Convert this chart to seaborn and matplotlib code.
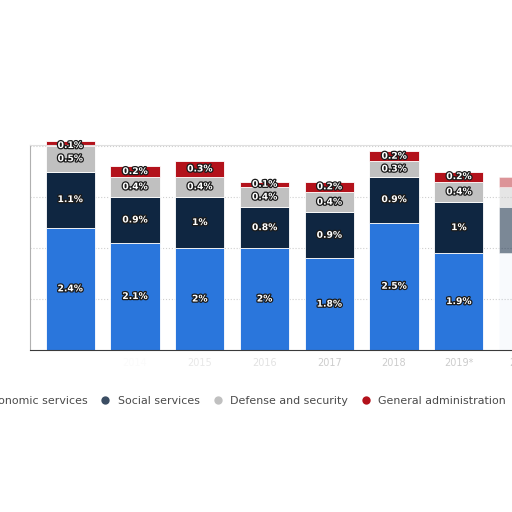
import numpy as np
import matplotlib
matplotlib.use("Agg")
import matplotlib.pyplot as plt
import matplotlib.patheffects as pe
from matplotlib.lines import Line2D
import seaborn as sns

# share of GDP (%) by expenditure category
years = ["2013", "2014", "2015", "2016", "2017", "2018", "2019*", "2020*"]
economic = [2.4, 2.1, 2.0, 2.0, 1.8, 2.5, 1.9, 1.9]
social = [1.1, 0.9, 1.0, 0.8, 0.9, 0.9, 1.0, 0.9]
defense = [0.5, 0.4, 0.4, 0.4, 0.4, 0.3, 0.4, 0.4]
general = [0.1, 0.2, 0.3, 0.1, 0.2, 0.2, 0.2, 0.2]

series = [
    ("Economic services", economic, "#2a76dc"),
    ("Social services", social, "#0f2641"),
    ("Defense and security", defense, "#c0c0c0"),
    ("General administration", general, "#b3121b"),
]
faded = {"Economic services": 0.03, "Social services": 0.55,
         "Defense and security": 0.4, "General administration": 0.45}

sns.set_style("white")
plt.rcParams["font.family"] = ["DejaVu Sans"]

fig = plt.figure(figsize=(5.12, 5.12), dpi=100)
# axes runs a little past the right edge so the last bar is cut off
x0, x1 = 30, 70 + 7.0 * 64.8
ax = fig.add_axes([x0 / 512, (512 - 350) / 512, (x1 - x0) / 512, (350 - 145) / 512])

bottom = np.zeros(len(years))
for name, vals, col in series:
    sns.barplot(x=years, y=vals, bottom=bottom, color=col, width=0.76,
                saturation=1, edgecolor="white", linewidth=0.6, ax=ax)
    cont = ax.containers[-1]
    for i, p in enumerate(cont):
        p.set_clip_on(False)
        if i == len(years) - 1:
            p.set_alpha(faded[name])
    labels = [f"{v:g}%" for v in vals[:-1]] + [""]
    txts = ax.bar_label(cont, labels=labels, label_type="center",
                        color="white", fontsize=6.6, fontweight="bold")
    for t in txts:
        t.set_path_effects([pe.withStroke(linewidth=1.8, foreground="#1a1a1a")])
    bottom = bottom + np.array(vals)

ax.set_xlim(-0.62, 7.0)
ax.set_ylim(0, 4.02)
ax.set_yticks([1, 2, 3, 4])
ax.set_yticklabels([])
ax.tick_params(axis="y", length=0)
ax.grid(True, axis="y", linestyle=":", color="#cfcfcf", linewidth=0.8)
ax.set_axisbelow(True)

ax.tick_params(axis="x", length=0, labelsize=7, pad=6)
tick_cols = ["#ffffff", "#fbfbfb", "#e8e8e8", "#e2e2e2",
             "#cccccc", "#cccccc", "#cccccc", "#cccccc"]
for lab, c in zip(ax.get_xticklabels(), tick_cols):
    lab.set_color(c)

ax.spines["left"].set_color("#b0b0b0")
ax.spines["top"].set_color("#e0e0e0")
ax.spines["bottom"].set_color("#3a3a3a")
ax.spines["right"].set_visible(False)

handles = [Line2D([], [], marker="o", linestyle="", markersize=6,
                  markerfacecolor=c if n != "Social services" else "#3b4d63",
                  markeredgecolor="none")
           for n, _, c in series]
fig.legend(handles, [n for n, _, _ in series], loc="center right",
           bbox_to_anchor=(506 / 512, (512 - 401) / 512), ncol=4, frameon=False,
           fontsize=7.9, handlelength=0.9, handletextpad=0.7, columnspacing=1.15,
           borderpad=0, borderaxespad=0, labelcolor="#4a4a4a")

fig.savefig("out.png", dpi=100)
